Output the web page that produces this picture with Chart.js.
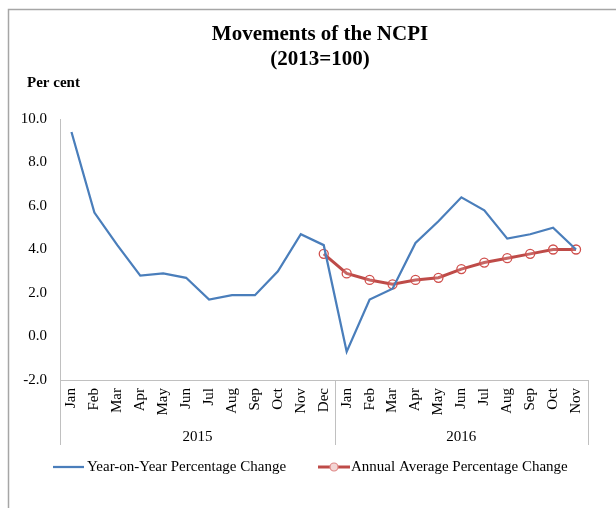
<!DOCTYPE html>
<html>
<head>
<meta charset="utf-8">
<script src="https://cdn.jsdelivr.net/npm/chart.js@4.4.1/dist/chart.umd.min.js"></script>
<style>
  html, body { margin: 0; padding: 0; background: #fff; }
  #wrap { position: relative; width: 616px; height: 508px; }
</style>
</head>
<body>
<div id="wrap"><canvas id="myChart" width="616" height="508"></canvas></div>
<script>
// data
var months2015 = ['Jan','Feb','Mar','Apr','May','Jun','Jul','Aug','Sep','Oct','Nov','Dec'];
var months2016 = ['Jan','Feb','Mar','Apr','May','Jun','Jul','Aug','Sep','Oct','Nov'];
var years = ['2015', '2016'];

var yoyChange = [9.4, 5.7, 4.2, 2.8, 2.9, 2.7, 1.7, 1.9, 1.9, 3.0, 4.7, 4.2,
                 -0.7, 1.7, 2.2, 4.3, 5.3, 6.4, 5.8, 4.5, 4.7, 5.0, 4.0];
var annualAvgChange = [null, null, null, null, null, null, null, null, null, null, null, 3.8,
                       2.9, 2.6, 2.4, 2.6, 2.7, 3.1, 3.4, 3.6, 3.8, 4.0, 4.0];

var yTicks = [-2, 0, 2, 4, 6, 8, 10];

var labels = months2015.concat(months2016);
var serif = '"Liberation Serif", "Times New Roman", serif';
var blue = '#4a7ebb';
var red = '#be4b48';

// title, frame, year groups and legend
const decoPlugin = {
  id: 'deco',
  afterDraw(chart) {
    const c = chart.ctx;
    const xs = chart.scales.x;
    c.save();

    // outer frame (left + top only, as in the picture)
    c.strokeStyle = '#a6a6a6';
    c.lineWidth = 1.5;
    c.beginPath();
    c.moveTo(8.5, 508);
    c.lineTo(8.5, 9.5);
    c.lineTo(616, 9.5);
    c.stroke();

    // title
    c.fillStyle = '#000';
    c.textAlign = 'center';
    c.textBaseline = 'alphabetic';
    c.font = 'bold 21px ' + serif;
    c.fillText('Movements of the NCPI', 320, 40);
    c.fillText('(2013=100)', 320, 65);

    c.textAlign = 'left';
    c.font = 'bold 15px ' + serif;
    c.fillText('Per cent', 27, 87);

    // year group dividers
    const step = xs.getPixelForValue(1) - xs.getPixelForValue(0);
    const split = xs.getPixelForValue(months2015.length - 1) + step / 2;
    const bottom = xs.top;
    c.strokeStyle = '#c0c0c0';
    c.lineWidth = 1;
    [xs.left, split, xs.right].forEach(function (px) {
      c.beginPath();
      c.moveTo(Math.round(px) + 0.5, bottom);
      c.lineTo(Math.round(px) + 0.5, 445);
      c.stroke();
    });

    c.font = '15px ' + serif;
    c.textAlign = 'center';
    c.fillText(years[0], (xs.left + split) / 2, 441);
    c.fillText(years[1], (split + xs.right) / 2, 441);

    // legend
    c.textAlign = 'left';
    c.textBaseline = 'middle';
    c.strokeStyle = blue;
    c.lineWidth = 2.25;
    c.beginPath();
    c.moveTo(53, 467);
    c.lineTo(84, 467);
    c.stroke();
    c.fillText(chart.data.datasets[0].label, 87, 467);

    c.strokeStyle = red;
    c.lineWidth = 3;
    c.beginPath();
    c.moveTo(318, 467);
    c.lineTo(350, 467);
    c.stroke();
    c.lineWidth = 1.2;
    c.strokeStyle = '#e08a88';
    c.fillStyle = '#f3d5d4';
    c.beginPath();
    c.arc(334, 467, 4, 0, Math.PI * 2);
    c.fill();
    c.stroke();
    c.fillStyle = '#000';
    c.fillText(chart.data.datasets[1].label, 351, 467);

    c.restore();
  }
};

Chart.defaults.font.family = serif;
Chart.defaults.color = '#000';

const myChart = new Chart(document.getElementById('myChart').getContext('2d'), {
  type: 'line',
  data: {
    labels: labels,
    datasets: [{
      label: 'Year-on-Year Percentage Change',
      data: yoyChange,
      borderColor: blue,
      borderWidth: 2.25,
      pointRadius: 0,
      tension: 0
    }, {
      label: 'Annual Average Percentage Change',
      data: annualAvgChange,
      borderColor: red,
      borderWidth: 3,
      pointRadius: 4.5,
      pointBorderWidth: 1.3,
      pointBorderColor: '#d0504d',
      pointBackgroundColor: 'rgba(255,255,255,0.15)',
      tension: 0
    }]
  },
  options: {
    responsive: false,
    animation: false,
    layout: { padding: { top: 119, right: 28.5, bottom: 0, left: 0 } },
    plugins: {
      legend: { display: false },
      title: { display: false },
      tooltip: { enabled: false }
    },
    scales: {
      x: {
        type: 'category',
        offset: true,
        grid: { display: false, drawTicks: false },
        border: { display: true, color: '#c0c0c0', width: 1 },
        ticks: {
          autoSkip: false,
          minRotation: 90,
          maxRotation: 90,
          padding: 8,
          font: { size: 15 }
        },
        afterFit: function (s) { s.height = 128; }
      },
      y: {
        min: -2,
        max: 10,
        afterBuildTicks: function (s) { s.ticks = yTicks.map(function (v) { return { value: v }; }); },
        grid: { display: false, drawTicks: false },
        border: { display: true, color: '#c0c0c0', width: 1 },
        ticks: {
          padding: 13,
          font: { size: 15 },
          callback: function (v) { return Number(v).toFixed(1); }
        },
        afterFit: function (s) { s.width = 60; }
      }
    }
  },
  plugins: [decoPlugin]
});
</script>
</body>
</html>
